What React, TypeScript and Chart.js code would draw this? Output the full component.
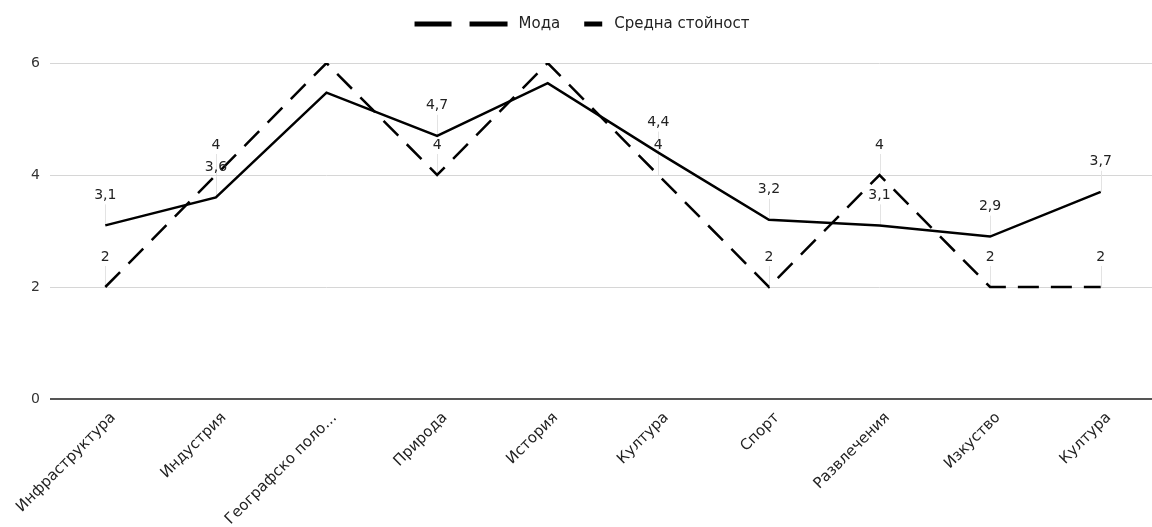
import React, { useEffect, useRef } from "react";
import { Chart, registerables } from "chart.js";

Chart.register(...registerables);

const categories = [
  "Инфраструктура",
  "Индустрия",
  "Географско поло…",
  "Природа",
  "История",
  "Култура",
  "Спорт",
  "Развлечения",
  "Изкуство",
  "Култура",
];
const modeValues = [2, 4, 6, 4, 6, 4, 2, 4, 2, 2];
const meanValues = [3.1, 3.6, 5.47, 4.7, 5.64, 4.4, 3.2, 3.1, 2.9, 3.7];
const seriesNames = ["Мода", "Средна стойност"];
const yTicks = [0, 2, 4, 6];

const FONT = "'DejaVu Sans', sans-serif";
const LABEL_RISE = 30;

const fmt = (v: number) => String(Math.round(v * 10) / 10).replace(".", ",");

// Value labels above each point, with a faint leader line down to the point.
const valueLabels = {
  id: "valueLabels",
  beforeDatasetsDraw(chart: any) {
    const { ctx, chartArea } = chart;
    ctx.save();
    ctx.strokeStyle = "#e3e3e3";
    ctx.lineWidth = 1;
    chart.data.datasets.forEach((_: any, di: number) => {
      chart.getDatasetMeta(di).data.forEach((pt: any) => {
        const ly = pt.y - LABEL_RISE;
        if (ly < chartArea.top + 15) return;
        ctx.beginPath();
        ctx.moveTo(Math.round(pt.x) + 0.5, ly + 9);
        ctx.lineTo(Math.round(pt.x) + 0.5, pt.y);
        ctx.stroke();
      });
    });
    ctx.restore();
  },
  afterDatasetsDraw(chart: any) {
    const { ctx, chartArea } = chart;
    ctx.save();
    ctx.font = `14px ${FONT}`;
    ctx.fillStyle = "#222";
    ctx.textAlign = "center";
    ctx.textBaseline = "middle";
    chart.data.datasets.forEach((ds: any, di: number) => {
      chart.getDatasetMeta(di).data.forEach((pt: any, i: number) => {
        const ly = pt.y - LABEL_RISE;
        if (ly < chartArea.top + 15) return;
        ctx.fillText(fmt(ds.data[i]), pt.x, ly);
      });
    });
    ctx.restore();
  },
};

// Legend row at the top: dashed sample for the mode, short bar for the mean.
const topLegend = {
  id: "topLegend",
  afterDraw(chart: any) {
    const { ctx } = chart;
    ctx.save();
    ctx.font = `15px ${FONT}`;
    const y = 24;
    const w0 = ctx.measureText(seriesNames[0]).width;
    const w1 = ctx.measureText(seriesNames[1]).width;
    const total = 93 + 11 + w0 + 24 + 18 + 12 + w1;
    let x = 582 - total / 2;
    ctx.strokeStyle = "#000";
    ctx.lineWidth = 5;
    ctx.beginPath();
    ctx.moveTo(x, y);
    ctx.lineTo(x + 37, y);
    ctx.moveTo(x + 55, y);
    ctx.lineTo(x + 93, y);
    ctx.stroke();
    x += 93 + 11;
    ctx.fillStyle = "#222";
    ctx.textBaseline = "middle";
    ctx.textAlign = "left";
    ctx.fillText(seriesNames[0], x, y);
    x += w0 + 24;
    ctx.beginPath();
    ctx.moveTo(x, y);
    ctx.lineTo(x + 18, y);
    ctx.stroke();
    x += 18 + 12;
    ctx.fillText(seriesNames[1], x, y);
    ctx.restore();
  },
};

export default function App() {
  const ref = useRef<HTMLCanvasElement>(null);

  useEffect(() => {
    if (!ref.current) return;
    const chart = new Chart(ref.current, {
      type: "line",
      data: {
        labels: categories,
        datasets: [
          {
            label: seriesNames[0],
            data: modeValues,
            borderColor: "#000",
            borderWidth: 2.5,
            borderDash: [21, 12],
            pointRadius: 0,
            tension: 0,
            fill: false,
          },
          {
            label: seriesNames[1],
            data: meanValues,
            borderColor: "#000",
            borderWidth: 2.5,
            pointRadius: 0,
            tension: 0,
            fill: false,
          },
        ],
      },
      options: {
        responsive: false,
        animation: false,
        layout: { padding: { top: 63, right: 4, left: 0, bottom: 0 } },
        plugins: {
          legend: { display: false },
          tooltip: { enabled: false },
        },
        scales: {
          x: {
            offset: true,
            grid: { display: false, offset: true },
            border: { display: false },
            ticks: {
              autoSkip: false,
              maxRotation: 45,
              minRotation: 45,
              padding: 2,
              labelOffset: 8,
              color: "#222",
              font: { family: FONT, size: 15 },
            },
            afterFit(scale: any) {
              scale.height = 128;
              scale.paddingLeft = 0;
              scale.paddingRight = 0;
            },
          },
          y: {
            min: 0,
            max: 6,
            afterBuildTicks(scale: any) {
              scale.ticks = yTicks.map((v) => ({ value: v }));
            },
            grid: {
              drawTicks: false,
              color: (c: any) => (c.tick && c.tick.value === 0 ? "#555" : "#d6d6d6"),
              lineWidth: (c: any) => (c.tick && c.tick.value === 0 ? 2 : 1),
            },
            border: { display: false },
            ticks: {
              padding: 10,
              color: "#333",
              font: { family: FONT, size: 14 },
            },
            afterFit(scale: any) {
              scale.width = 50;
            },
          },
        },
      },
      plugins: [valueLabels, topLegend],
    });
    return () => chart.destroy();
  }, []);

  return (
    <div
      style={{
        position: "absolute",
        left: 0,
        top: 0,
        width: 1152,
        height: 527,
        overflow: "hidden",
        background: "#fff",
      }}
    >
      <canvas ref={ref} width={1160} height={527} style={{ width: 1160, height: 527 }} />
    </div>
  );
}
